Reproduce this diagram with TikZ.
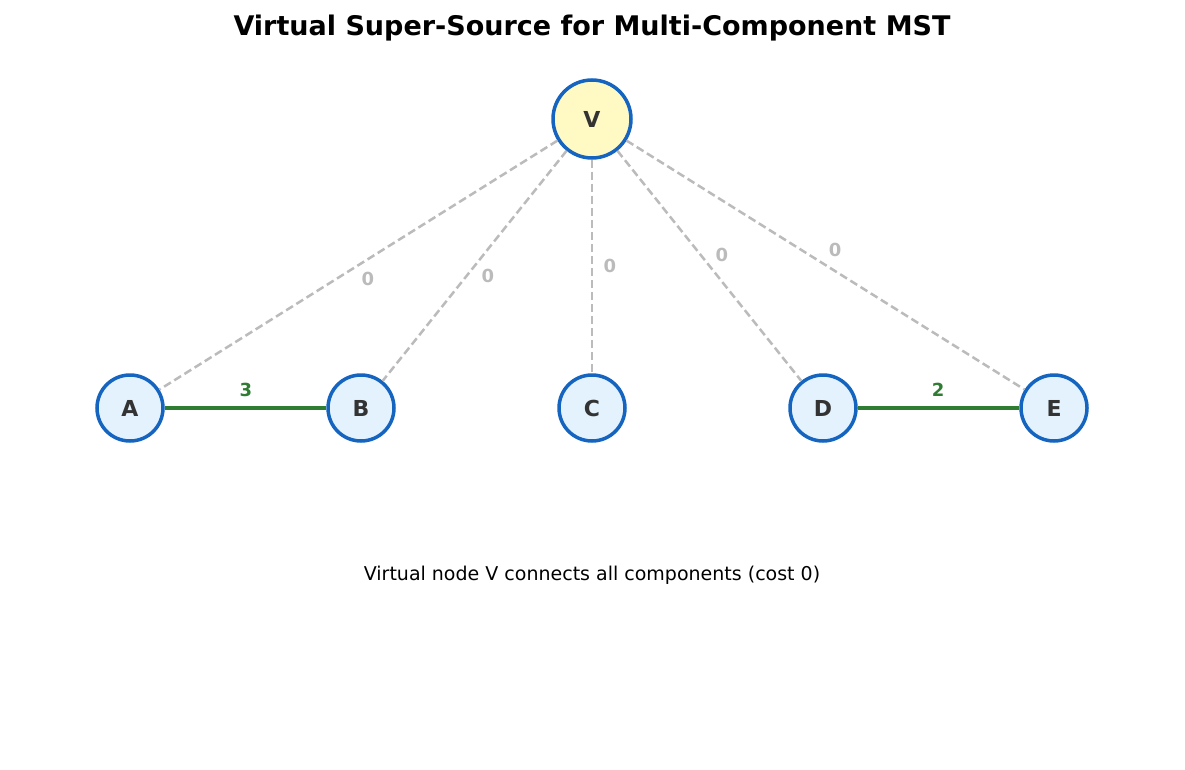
\documentclass[tikz,border=0pt]{standalone}
\usepackage{fontspec}
\setmainfont{DejaVu Sans}
\begin{document}
\begin{tikzpicture}[x=1pt,y=-1pt,
  vert/.style={circle,draw=nblue,line width=3.5pt,fill=nfill,minimum size=66pt,inner sep=0pt,font=\fontsize{22}{24}\selectfont\bfseries,text=ntext},
  virt/.style={vert,fill=vfill,minimum size=78pt},
  vedge/.style={draw=lgray,line width=2.5pt,dash pattern=on 8pt off 4pt},
  mst/.style={draw=mgreen,line width=3.5pt},
  wl/.style={font=\fontsize{18}{20}\selectfont\bfseries,text=lgray},
  gl/.style={font=\fontsize{18}{20}\selectfont\bfseries,text=mgreen}]
\definecolor{nblue}{HTML}{1565C0}
\definecolor{nfill}{HTML}{E3F2FD}
\definecolor{vfill}{HTML}{FFF9C4}
\definecolor{ntext}{HTML}{333333}
\definecolor{lgray}{HTML}{BBBBBB}
\definecolor{mgreen}{HTML}{2E7D32}
\useasboundingbox (0,0) rectangle (1185,770);
\node[font=\fontsize{27}{30}\selectfont\bfseries] (title) at (592,28) {Virtual Super-Source for Multi-Component MST};
\node[virt] (V) at (592,119) {V};
\node[vert] (A) at (130,408) {A};
\node[vert] (B) at (361,408) {B};
\node[vert] (C) at (592,408) {C};
\node[vert] (D) at (823,408) {D};
\node[vert] (E) at (1054,408) {E};
\draw[vedge] (V) -- (A);
\draw[vedge] (V) -- (B);
\draw[vedge] (V) -- (C);
\draw[vedge] (V) -- (D);
\draw[vedge] (V) -- (E);
\draw[mst] (A) -- (B);
\draw[mst] (D) -- (E);
\node[wl] (l1) at (368,279) {0};
\node[wl] (l2) at (488,276) {0};
\node[wl] (l3) at (610,266) {0};
\node[wl] (l4) at (722,255) {0};
\node[wl] (l5) at (835,250) {0};
\node[gl] (l6) at (246,390) {3};
\node[gl] (l7) at (938,390) {2};
\node[font=\fontsize{19}{22}\selectfont] (cap) at (592,575) {Virtual node V connects all components (cost 0)};
\end{tikzpicture}
\end{document}
